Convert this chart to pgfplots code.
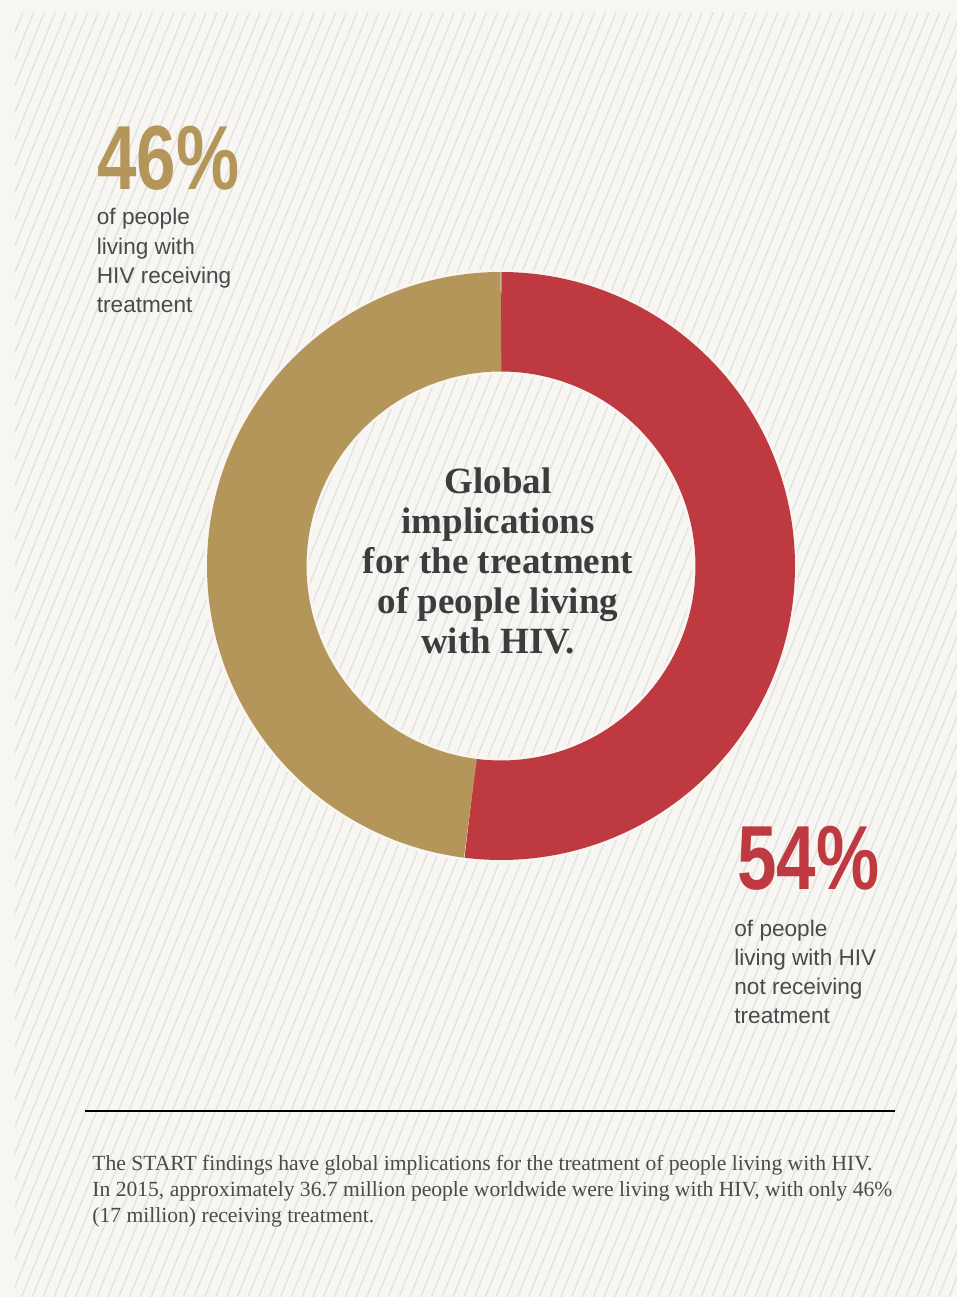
\documentclass[border=0pt]{standalone}
\usepackage{pgfplots}
\pgfplotsset{compat=1.18}
\usepackage{fontspec}
\usetikzlibrary{patterns.meta}
\setmainfont{Liberation Serif}
\newfontfamily\sansf{Liberation Sans}
\newfontfamily\condf[FakeStretch=0.78]{Liberation Sans Bold}
\newfontfamily\titlef{Liberation Serif Bold}
\newfontfamily\notef{Liberation Serif}
\definecolor{bgc}{HTML}{F7F6F2}
\definecolor{hatchc}{HTML}{E4E2DD}
\definecolor{redc}{HTML}{BE3A40}
\definecolor{goldc}{HTML}{B4965A}
\definecolor{txt}{HTML}{4A4A4C}
\definecolor{ttl}{HTML}{3C3C3E}
% shares of the ring as drawn (percent)
\def\untreated{52}
\def\treated{48}
\tikzset{body/.style={anchor=base west,inner sep=0,text=txt,font=\sansf\fontsize{11.3pt}{14pt}\selectfont},
  ttlst/.style={anchor=base,inner sep=0,text=ttl,font=\titlef\fontsize{18.5pt}{20pt}\selectfont},
  note/.style={anchor=base west,inner sep=0,text=txt,font=\notef\fontsize{10.8pt}{13pt}\selectfont}}
\begin{document}
\begin{tikzpicture}
\fill[bgc] (0pt,0pt) rectangle (478.5pt,648.5pt);
\fill[pattern={Lines[angle=68,distance=5pt,line width=0.7pt]},pattern color=hatchc] (7.5pt,0pt) rectangle (478.5pt,642pt);
\begin{axis}[at={(0pt,0pt)},anchor=south west,scale only axis,width=478.5pt,height=648.5pt,
  xmin=0,xmax=957,ymin=0,ymax=1297,hide axis,clip=false]
% halo
\addplot[domain=0:360,samples=240,variable=\t,line width=52.5pt,draw=bgc]
  ({501+244.25*cos(\t)},{731+244.25*sin(\t)});
% untreated (red)
\addplot[domain=90:{90-3.6*\untreated},samples=240,variable=\t,line width=49.75pt,draw=redc]
  ({501+244.25*cos(\t)},{731+244.25*sin(\t)});
% treated (gold)
\addplot[domain={90-3.6*\untreated}:{90-3.6*\untreated-3.6*\treated},samples=240,variable=\t,line width=49.75pt,draw=goldc]
  ({501+244.25*cos(\t)},{731+244.25*sin(\t)});
% labels
\node[anchor=base west,inner sep=0,text=goldc,font=\condf\fontsize{45.5pt}{45pt}\selectfont] at (axis cs:97,1107) {46\%};
\node[body] at (axis cs:96.5,1072) {of people};
\node[body] at (axis cs:96.5,1042.7) {living with};
\node[body] at (axis cs:96.5,1013.4) {HIV receiving};
\node[body] at (axis cs:96.5,984.1) {treatment};
\node[anchor=base west,inner sep=0,text=redc,font=\condf\fontsize{45.5pt}{45pt}\selectfont] at (axis cs:737,407) {54\%};
\node[body] at (axis cs:734,360) {of people};
\node[body] at (axis cs:734,331) {living with HIV};
\node[body] at (axis cs:734,302) {not receiving};
\node[body] at (axis cs:734,273) {treatment};
% centre title
\node[ttlst] at (axis cs:498,803) {Global};
\node[ttlst] at (axis cs:498,763) {implications};
\node[ttlst] at (axis cs:498,723) {for the treatment};
\node[ttlst] at (axis cs:498,683) {of people living};
\node[ttlst] at (axis cs:498,643) {with HIV.};
% rule
\draw[black,line width=1pt] (axis cs:85,186) -- (axis cs:895,186);
% footnote
\node[note] at (axis cs:92,126) {The START findings have global implications for the treatment of people living with HIV.};
\node[note] at (axis cs:92,100) {In 2015, approximately 36.7 million people worldwide were living with HIV, with only 46\%};
\node[note] at (axis cs:92,74) {(17 million) receiving treatment.};
\end{axis}
\end{tikzpicture}
\end{document}
